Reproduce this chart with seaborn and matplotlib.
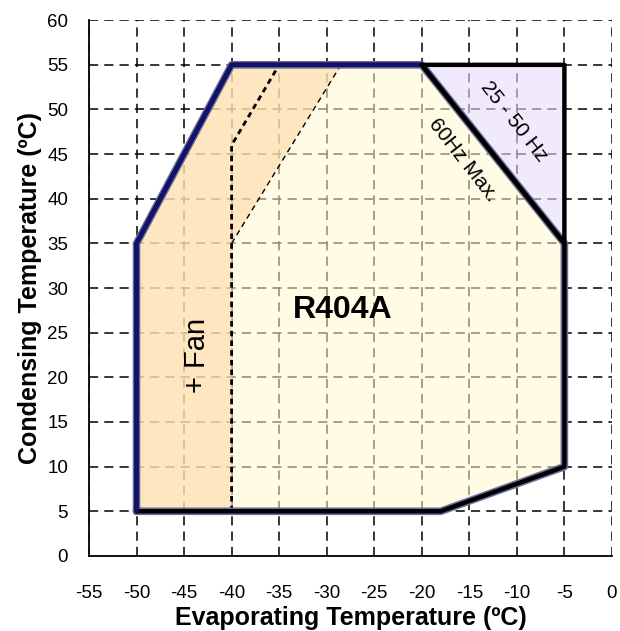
import numpy as np
import pandas as pd
import matplotlib
matplotlib.use("Agg")
import matplotlib.pyplot as plt
import seaborn as sns

# envelope data (evaporating temp, condensing temp)
envelope_x = [-50, -50, -40, -20, -5, -5, -18, -50]
envelope_y = [5, 35, 55, 55, 35, 10, 5, 5]

# 25-50 Hz triangle
hz_x = [-20, -5, -5]
hz_y = [55, 55, 35]

# + Fan region
fan_x = [-50, -50, -40, -28.5, -40, -40]
fan_y = [5, 35, 55, 55, 35, 5]

# dashed lines inside the fan region
heavy_dash_x = [-40, -40, -35]
heavy_dash_y = [5, 46, 55]
light_dash_x = [-40, -28.5]
light_dash_y = [35, 55]

x_ticks = list(range(-55, 1, 5))
y_ticks = list(range(0, 61, 5))

sns.set_theme(style="white")
plt.rcParams['font.family'] = ['Liberation Sans', 'DejaVu Sans']
plt.rcParams['text.color'] = 'black'
plt.rcParams['axes.labelcolor'] = 'black'
plt.rcParams['xtick.color'] = 'black'
plt.rcParams['ytick.color'] = 'black'


def line(xs, ys, **kw):
    sns.lineplot(x=xs, y=ys, sort=False, estimator=None, ax=ax, **kw)
    return ax.lines[-1]


fig = plt.figure(figsize=(6.2, 6.31), dpi=100)
ax = fig.add_axes([0.1435, 0.119, 0.8435, 0.849])

# grid
for v in x_ticks:
    ax.axvline(v, color='black', lw=1.1, ls=(0, (6, 4)), zorder=0)
for v in y_ticks[1:]:
    ax.axhline(v, color='black', lw=1.1, ls=(0, (6, 4)), zorder=0)

# fills (semi transparent, grid shows through)
ax.fill(envelope_x, envelope_y, color='#fff8d0', alpha=0.55, lw=0, zorder=1)
ax.fill(fan_x, fan_y, color='#fcd9a8', alpha=0.6, lw=0, zorder=2)
ax.fill(hz_x, hz_y, color='#e6dcfa', alpha=0.6, lw=0, zorder=2)

# dashed lines
l = line(heavy_dash_x, heavy_dash_y, color='black', lw=2.0, zorder=3)
l.set_linestyle((0, (2, 1.5)))
l = line(light_dash_x, light_dash_y, color='black', lw=1.0, zorder=3)
l.set_linestyle((0, (4, 3)))

# envelope outline: shadow, then line
line(envelope_x, envelope_y, color='#6b6b9a', lw=5.5, zorder=4)
line(envelope_x, envelope_y, color='black', lw=3.2, zorder=5)
# navy on left / top-left edges
line(envelope_x[:4], envelope_y[:4], color='#12126e', lw=3.2, zorder=6)
# 60Hz max diagonal and triangle edges
line(hz_x + [hz_x[0]], hz_y + [hz_y[0]], color='black', lw=3.2, zorder=6)

# labels inside
ax.text(-28.3, 27.5, 'R404A', fontsize=23, fontweight='bold', ha='center',
        va='center', zorder=7)
ax.text(-43.6, 22.4, '+ Fan', fontsize=21, rotation=90, ha='center',
        va='center', zorder=7)
ax.text(-15.7, 44.3, '60Hz Max.', fontsize=15, rotation=-52, ha='center',
        va='center', rotation_mode='anchor', zorder=7)
ax.text(-10.3, 48.6, '25 - 50 Hz', fontsize=15, rotation=-52, ha='center',
        va='center', rotation_mode='anchor', zorder=7)

ax.set_xlim(-55, 0)
ax.set_ylim(0, 60)
ax.set_xticks(x_ticks)
ax.set_yticks(y_ticks)
ax.set_xticklabels([str(t) for t in x_ticks], fontsize=13.5)
ax.set_yticklabels([str(t) for t in y_ticks], fontsize=13.5)
ax.tick_params(direction='inout', length=8, width=1.1, color='black')
ax.tick_params(axis='x', pad=17)
ax.tick_params(axis='y', pad=11)

for s in ['top', 'right']:
    ax.spines[s].set_visible(False)
for s in ['left', 'bottom']:
    ax.spines[s].set_color('black')
    ax.spines[s].set_linewidth(1.3)

ax.set_xlabel('Evaporating Temperature (ºC)', fontsize=18, fontweight='bold',
              labelpad=3)
ax.set_ylabel('Condensing Temperature (ºC)', fontsize=18, fontweight='bold',
              labelpad=4)

fig.savefig('out.png', dpi=100)
